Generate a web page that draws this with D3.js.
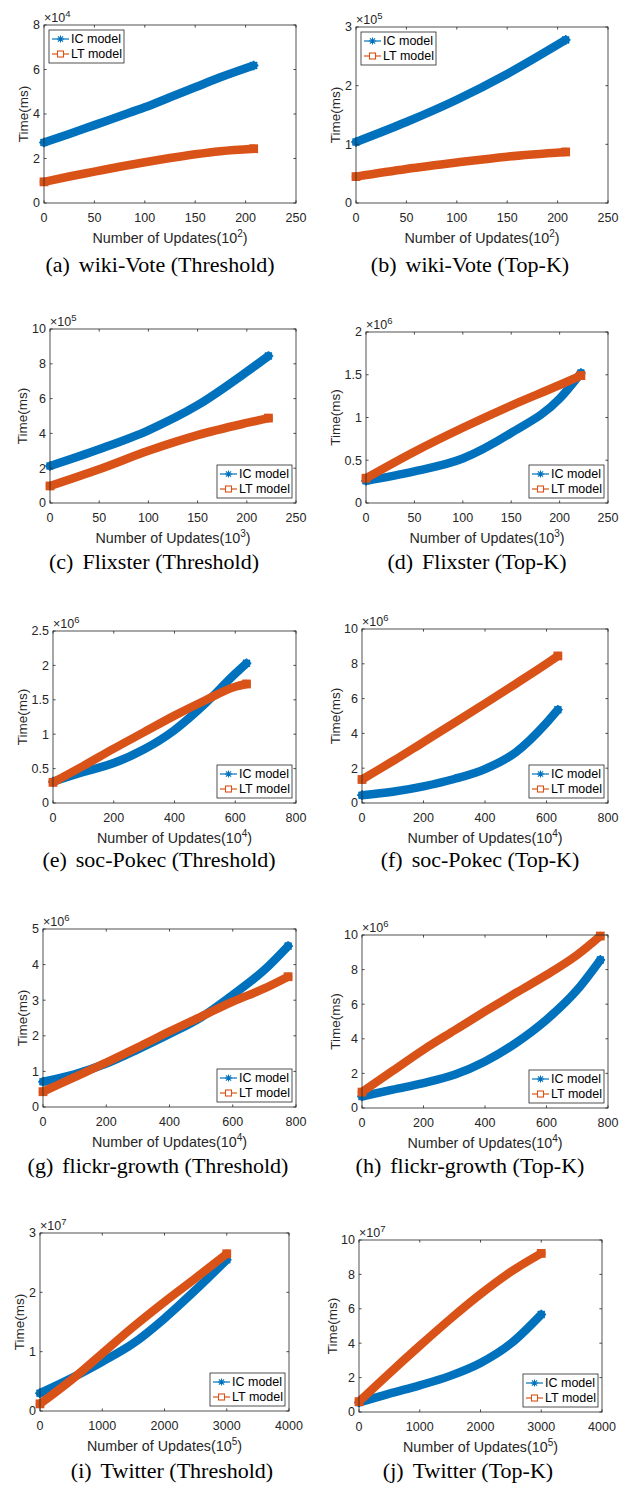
<!DOCTYPE html>
<html><head><meta charset="utf-8">
<script src="https://cdn.jsdelivr.net/npm/d3@7"></script>
<style>body{margin:0;background:#fff} svg{display:block}</style>
</head><body><svg id="c" width="631" height="1487"></svg>
<script>
// ---------------- data (values in axis units, y in ×10^exp) ----------------
const seriesNames = ["IC model", "LT model"];
const captionTags = ["(a)", "(b)", "(c)", "(d)", "(e)", "(f)", "(g)", "(h)", "(i)", "(j)"];
const captionTitles = ["wiki-Vote (Threshold)", "wiki-Vote (Top-K)", "Flixster (Threshold)", "Flixster (Top-K)",
  "soc-Pokec (Threshold)", "soc-Pokec (Top-K)", "flickr-growth (Threshold)", "flickr-growth (Top-K)",
  "Twitter (Threshold)", "Twitter (Top-K)"];
const yExponents = [4, 5, 5, 6, 6, 6, 6, 6, 7, 7];
const xExponents = [2, 2, 3, 3, 4, 4, 4, 4, 5, 5];
const xMax = [250, 250, 250, 250, 800, 800, 800, 800, 4000, 4000];
const xStep = [50, 50, 50, 50, 200, 200, 200, 200, 1000, 1000];
const yMax = [8, 3, 10, 2, 2.5, 10, 5, 10, 3, 10];
const yStep = [2, 1, 2, 0.5, 0.5, 2, 1, 2, 1, 2];

const aX  = [0, 25, 50, 75, 100, 125, 150, 175, 208];
const aIC = [2.72, 3.1, 3.5, 3.9, 4.3, 4.75, 5.2, 5.65, 6.18];
const aLT = [0.95, 1.19, 1.41, 1.63, 1.83, 2.02, 2.19, 2.33, 2.44];

const bX  = [0, 50, 100, 150, 208];
const bIC = [1.04, 1.38, 1.76, 2.2, 2.78];
const bLT = [0.45, 0.58, 0.69, 0.79, 0.87];

const cX  = [0, 50, 100, 150, 200, 222];
const cIC = [2.13, 3.09, 4.18, 5.62, 7.54, 8.45];
const cLT = [0.98, 1.94, 3.0, 3.9, 4.6, 4.88];

const dX  = [0, 50, 100, 150, 200, 222];
const dIC = [0.26, 0.37, 0.52, 0.82, 1.22, 1.52];
const dLT = [0.29, 0.6, 0.88, 1.14, 1.38, 1.49];

const eX  = [0, 100, 200, 300, 400, 500, 600, 637];
const eIC = [0.31, 0.45, 0.58, 0.78, 1.06, 1.44, 1.88, 2.03];
const eLT = [0.3, 0.54, 0.79, 1.03, 1.27, 1.49, 1.69, 1.73];

const fX  = [0, 100, 200, 300, 400, 500, 600, 637];
const fIC = [0.45, 0.65, 0.96, 1.38, 1.95, 2.91, 4.6, 5.36];
const fLT = [1.35, 2.4, 3.5, 4.6, 5.72, 6.85, 8.0, 8.45];

const gX  = [0, 100, 200, 300, 400, 500, 600, 700, 775];
const gIC = [0.71, 0.92, 1.22, 1.62, 2.05, 2.52, 3.15, 3.85, 4.52];
const gLT = [0.43, 0.84, 1.25, 1.68, 2.12, 2.54, 2.96, 3.33, 3.66];

const hX  = [0, 100, 200, 300, 400, 500, 600, 700, 775];
const hIC = [0.67, 1.06, 1.44, 1.92, 2.69, 3.75, 5.1, 6.83, 8.56];
const hLT = [0.92, 2.15, 3.37, 4.48, 5.58, 6.65, 7.69, 8.85, 9.94];

const iX  = [0, 500, 1000, 1500, 2000, 2500, 3000];
const iIC = [0.3, 0.55, 0.83, 1.14, 1.56, 2.04, 2.55];
const iLT = [0.12, 0.52, 0.97, 1.42, 1.84, 2.24, 2.65];

const jX  = [0, 500, 1000, 1500, 2000, 2500, 3000];
const jIC = [0.55, 1.07, 1.55, 2.1, 2.85, 3.98, 5.67];
const jLT = [0.6, 2.25, 3.85, 5.4, 6.85, 8.15, 9.22];

const xsAll  = [aX, bX, cX, dX, eX, fX, gX, hX, iX, jX];
const icAll  = [aIC, bIC, cIC, dIC, eIC, fIC, gIC, hIC, iIC, jIC];
const ltAll  = [aLT, bLT, cLT, dLT, eLT, fLT, gLT, hLT, iLT, jLT];

// ---------------- layout (positions / styles) ----------------
const layout = [
  {L:44, R:296, T:25, B:203, leg:"tl", cap:[160,272], yl:23},
  {L:356, R:608, T:27, B:203, leg:"tl", cap:[470,272], yl:335},
  {L:50, R:296, T:329, B:503, leg:"br", cap:[154,569], yl:22.5},
  {L:366, R:608, T:332, B:503, leg:"br", cap:[477,569], yl:335},
  {L:53, R:296, T:631, B:803, leg:"br", cap:[159,867], yl:22.5},
  {L:362, R:608, T:629, B:803, leg:"br", cap:[480,867], yl:335},
  {L:43, R:296, T:929, B:1107, leg:"br", cap:[158,1173], yl:22.5},
  {L:362, R:608, T:935, B:1108, leg:"br", cap:[470,1173], yl:335.5},
  {L:40, R:289, T:1233, B:1411, leg:"br", cap:[172,1478], yl:19.5},
  {L:359, R:602, T:1240, B:1412, leg:"br", cap:[468,1478], yl:332.5}
];
const colors = ["#0072BD", "#D95319"];
const axisColor = "#262626";
const sans = "'Liberation Sans', Arial, Helvetica, sans-serif";
const serif = "'Liberation Serif', 'Times New Roman', serif";

const svg = d3.select("#c");

function asterisk(g, x, y, r, color, sw) {
  const p = d3.path();
  p.moveTo(x - r, y); p.lineTo(x + r, y);
  p.moveTo(x, y - r); p.lineTo(x, y + r);
  const d = r * 0.72;
  p.moveTo(x - d, y - d); p.lineTo(x + d, y + d);
  p.moveTo(x - d, y + d); p.lineTo(x + d, y - d);
  g.append("path").attr("d", p.toString()).attr("stroke", color).attr("stroke-width", sw).attr("fill", "none");
}
function square(g, x, y, r, color, sw, fill) {
  g.append("rect").attr("x", x - r).attr("y", y - r).attr("width", 2 * r).attr("height", 2 * r)
    .attr("fill", fill || "none").attr("stroke", color).attr("stroke-width", sw);
}

layout.forEach((lo, k) => {
  const g = svg.append("g");
  const x = d3.scaleLinear().domain([0, xMax[k]]).range([lo.L, lo.R]);
  const y = d3.scaleLinear().domain([0, yMax[k]]).range([lo.B, lo.T]);
  const xt = d3.range(0, xMax[k] + 1e-9, xStep[k]);
  const yt = d3.range(0, yMax[k] + 1e-9, yStep[k]);
  const fmt = v => String(+v.toFixed(2));

  // series
  const clip = "clip" + k;
  g.append("clipPath").attr("id", clip).append("rect")
    .attr("x", lo.L - 6).attr("y", lo.T - 6).attr("width", lo.R - lo.L + 12).attr("height", lo.B - lo.T + 6);
  const sg = g.append("g").attr("clip-path", `url(#${clip})`);
  const line = d3.line().x(d => x(d[0])).y(d => y(d[1])).curve(d3.curveMonotoneX);
  [icAll[k], ltAll[k]].forEach((vals, s) => {
    const pts = xsAll[k].map((xv, i) => [xv, vals[i]]);
    sg.append("path").attr("d", line(pts)).attr("fill", "none").attr("stroke", colors[s])
      .attr("stroke-width", 8.5).attr("stroke-linecap", "round").attr("stroke-linejoin", "round");
    const last = pts[pts.length - 1], first = pts[0];
    [first, last].forEach(p => {
      if (s === 0) asterisk(sg, x(p[0]), y(p[1]), 4.8, colors[0], 1.6);
      else square(sg, x(p[0]), y(p[1]), 3.6, colors[1], 1.6, colors[1]);
    });
  });

  // axes box
  g.append("rect").attr("x", lo.L).attr("y", lo.T).attr("width", lo.R - lo.L).attr("height", lo.B - lo.T)
    .attr("fill", "none").attr("stroke", axisColor).attr("stroke-width", 0.8);
  const tl = 2.6;
  xt.forEach(v => {
    g.append("line").attr("x1", x(v)).attr("x2", x(v)).attr("y1", lo.B).attr("y2", lo.B - tl).attr("stroke", axisColor).attr("stroke-width", 0.8);
    g.append("line").attr("x1", x(v)).attr("x2", x(v)).attr("y1", lo.T).attr("y2", lo.T + tl).attr("stroke", axisColor).attr("stroke-width", 0.8);
    g.append("text").attr("x", x(v)).attr("y", lo.B + 19).attr("text-anchor", "middle")
      .attr("font-family", sans).attr("font-size", 12.5).attr("fill", axisColor).text(fmt(v));
  });
  yt.forEach(v => {
    g.append("line").attr("x1", lo.L).attr("x2", lo.L + tl).attr("y1", y(v)).attr("y2", y(v)).attr("stroke", axisColor).attr("stroke-width", 0.8);
    g.append("line").attr("x1", lo.R).attr("x2", lo.R - tl).attr("y1", y(v)).attr("y2", y(v)).attr("stroke", axisColor).attr("stroke-width", 0.8);
    g.append("text").attr("x", lo.L - 4).attr("y", y(v)).attr("dy", "0.35em").attr("text-anchor", "end")
      .attr("font-family", sans).attr("font-size", 12.5).attr("fill", axisColor).text(fmt(v));
  });

  // exponent label
  const ex = g.append("text").attr("x", lo.L).attr("y", lo.T - 3).attr("font-family", sans)
    .attr("font-size", 12.5).attr("fill", axisColor);
  ex.append("tspan").text("\u00D710");
  ex.append("tspan").attr("dy", -5).attr("font-size", 9.5).text(yExponents[k]);

  // axis labels
  const xl = g.append("text").attr("x", (lo.L + lo.R) / 2).attr("y", lo.B + 40).attr("text-anchor", "middle")
    .attr("font-family", sans).attr("font-size", 14.3).attr("fill", axisColor);
  xl.append("tspan").text("Number of Updates(10");
  xl.append("tspan").attr("dy", -6).attr("font-size", 10).text(xExponents[k]);
  xl.append("tspan").attr("dy", 6).text(")");

  g.append("text").attr("transform", `translate(${lo.yl},${(lo.T + lo.B) / 2}) rotate(-90)`)
    .attr("dy", "0.35em").attr("text-anchor", "middle").attr("font-family", sans).attr("font-size", 13.5)
    .attr("fill", axisColor).text("Time(ms)");

  // legend
  const lw = 75, lh = 33;
  const lx = lo.leg === "tl" ? lo.L + 5 : lo.R - 4 - lw;
  const ly = lo.leg === "tl" ? lo.T + 5 : lo.B - 5 - lh;
  const lg = g.append("g");
  lg.append("rect").attr("x", lx).attr("y", ly).attr("width", lw).attr("height", lh)
    .attr("fill", "#fff").attr("stroke", axisColor).attr("stroke-width", 0.8);
  seriesNames.forEach((nm, s) => {
    const cy = ly + 9 + s * 15;
    lg.append("line").attr("x1", lx + 3).attr("x2", lx + 20).attr("y1", cy).attr("y2", cy)
      .attr("stroke", colors[s]).attr("stroke-width", 1.2);
    if (s === 0) asterisk(lg, lx + 11.5, cy, 3.6, colors[0], 1.1);
    else square(lg, lx + 11.5, cy, 3, colors[1], 1.1, "#fff");
    lg.append("text").attr("x", lx + 22).attr("y", cy).attr("dy", "0.35em").attr("font-family", sans)
      .attr("font-size", 12.5).attr("fill", "#000").text(nm);
  });

  // caption
  const cap = g.append("text").attr("x", lo.cap[0]).attr("y", lo.cap[1]).attr("text-anchor", "middle")
    .attr("font-family", serif).attr("font-size", 22).attr("fill", "#000");
  cap.append("tspan").text(captionTags[k]);
  cap.append("tspan").attr("dx", 9).text(captionTitles[k]);
});
</script></body></html>
